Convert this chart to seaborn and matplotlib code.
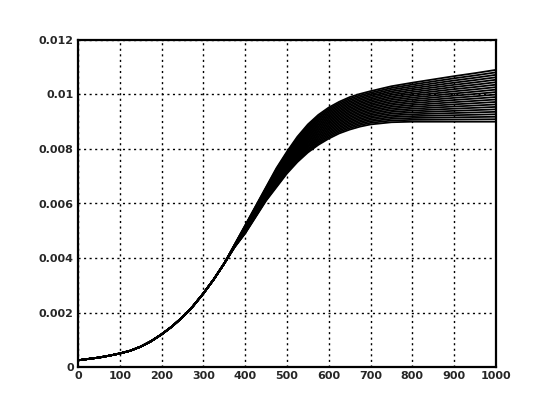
import numpy as np
import pandas as pd
import matplotlib
matplotlib.use("Agg")
import matplotlib.pyplot as plt
import seaborn as sns

# Sample positions along the horizontal axis
x_vals = [0, 25, 50, 75, 100, 125, 150, 175, 200, 225, 250, 275, 300, 325,
          350, 375, 400, 425, 450, 475, 500, 525, 550, 575, 600, 625, 650,
          675, 700, 750, 800, 850, 900, 950, 1000]

# Lowest curve of the family
lower = [0.00025, 0.0003, 0.00035, 0.00042, 0.0005, 0.0006, 0.00075, 0.00095,
         0.0012, 0.00149, 0.00183, 0.00223, 0.0027, 0.00322, 0.0038, 0.0044,
         0.0049, 0.0055, 0.0061, 0.0066, 0.0071, 0.00752, 0.00787, 0.00815,
         0.00838, 0.00857, 0.00871, 0.00882, 0.0089, 0.00898, 0.0090, 0.0090,
         0.0090, 0.0090, 0.0090]

# Highest curve of the family
upper = [0.00025, 0.0003, 0.00035, 0.00042, 0.0005, 0.0006, 0.00075, 0.00095,
         0.0012, 0.00149, 0.00183, 0.00223, 0.0027, 0.00322, 0.0038, 0.0045,
         0.0052, 0.0059, 0.0066, 0.0073, 0.0079, 0.00845, 0.0089, 0.00925,
         0.00952, 0.00973, 0.0099, 0.01002, 0.01012, 0.0103, 0.01043, 0.01055,
         0.01067, 0.01078, 0.0109]

n_curves = 22

x_ticks = [0, 100, 200, 300, 400, 500, 600, 700, 800, 900, 1000]
x_tick_labels = ["0", "100", "200", "300", "400", "500", "600", "700", "800", "900", "1000"]
y_ticks = [0, 0.002, 0.004, 0.006, 0.008, 0.010, 0.012]
y_tick_labels = ["0", "0.002", "0.004", "0.006", "0.008", "0.01", "0.012"]

# Build a long table: one curve per member of the family
lo = np.array(lower)
hi = np.array(upper)
rows = []
for k in range(n_curves):
    w = k / (n_curves - 1)
    ys = lo + w * (hi - lo)
    for xv, yv in zip(x_vals, ys):
        rows.append({"x": xv, "y": yv, "curve": k})
df = pd.DataFrame(rows)

sns.set_style("white")
plt.rcParams["font.family"] = ["DejaVu Sans"]

fig = plt.figure(figsize=(5.45, 4.07), dpi=100)
ax = fig.add_axes([0.143, 0.098, 0.767, 0.804])

sns.lineplot(data=df, x="x", y="y", hue="curve", units="curve", estimator=None,
             palette=["black"] * n_curves, legend=False, linewidth=1.3, ax=ax,
             sort=False)

ax.set_xlim(0, 1000)
ax.set_ylim(0, 0.012)
ax.set_xticks(x_ticks)
ax.set_xticklabels(x_tick_labels, fontsize=8, fontweight="bold")
ax.set_yticks(y_ticks)
ax.set_yticklabels(y_tick_labels, fontsize=8, fontweight="bold")
ax.set_xlabel("")
ax.set_ylabel("")
ax.tick_params(axis="both", length=0, pad=3)

ax.grid(True, color="black", linestyle=(0, (1.5, 2.5)), linewidth=1.0)
ax.set_axisbelow(True)
for sp in ax.spines.values():
    sp.set_visible(True)
    sp.set_color("black")
    sp.set_linewidth(1.6)

fig.savefig("out.png", dpi=100, facecolor="white")
